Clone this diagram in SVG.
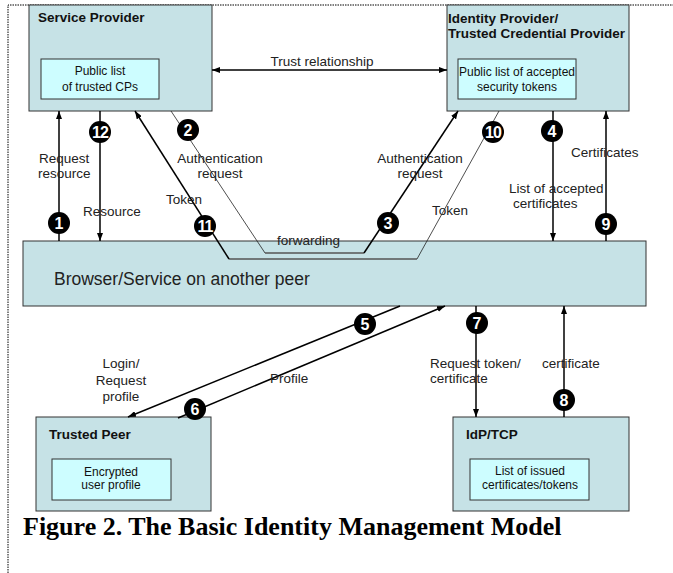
<svg xmlns="http://www.w3.org/2000/svg" width="673" height="573" viewBox="0 0 673 573">
  <defs>
    <style>
      .box { fill: #c6e2e6; stroke: #333; stroke-width: 1; }
      .inner { fill: #cdfdff; stroke: #333; stroke-width: 1; }
      .title { font-family: "Liberation Sans", Arial, sans-serif; font-weight: bold; font-size: 13.5px; fill: #111; }
      .itext { font-family: "Liberation Sans", Arial, sans-serif; font-size: 12px; fill: #111; text-anchor: middle; }
      .lbl { font-family: "Liberation Sans", Arial, sans-serif; font-size: 13.5px; fill: #222; }
      .ln { fill: none; stroke: #000; stroke-width: 1.5; }
      .thin { fill: none; stroke: #222; stroke-width: 0.8; }
      .fwd { fill: none; stroke: #555; stroke-width: 1.6; }
      .badge circle { fill: #000; }
      .badge text { font-family: "Liberation Sans", Arial, sans-serif; font-weight: bold; font-size: 16px; fill: #fff; text-anchor: middle; }
    </style>
    <marker id="ah" viewBox="0 0 8 6" refX="8" refY="3" markerWidth="8" markerHeight="6" markerUnits="userSpaceOnUse" orient="auto-start-reverse">
      <path d="M0,0 L8,3 L0,6 Z" fill="#000"/>
    </marker>
  </defs>

  <rect width="673" height="573" fill="#fff"/>
  <!-- dotted frame -->
  <path d="M8,573 V5 H673" fill="none" stroke="#000" stroke-width="1" stroke-dasharray="1.5 1"/>

  <!-- nodes -->
  <g id="service-provider">
    <rect class="box" x="29" y="5" width="183" height="106"/>
    <text class="title" x="38" y="22">Service Provider</text>
    <rect class="inner" x="41" y="59" width="118" height="40"/>
    <text class="itext" x="100" y="75">Public list</text>
    <text class="itext" x="100" y="91">of trusted CPs</text>
  </g>

  <g id="identity-provider">
    <rect class="box" x="447" y="5" width="182" height="106"/>
    <text class="title" x="448" y="23">Identity Provider/</text>
    <text class="title" x="448" y="38">Trusted Credential Provider</text>
    <rect class="inner" x="458" y="59" width="118" height="40"/>
    <text class="itext" x="517" y="76">Public list of accepted</text>
    <text class="itext" x="517" y="91">security tokens</text>
  </g>

  <g id="browser">
    <rect class="box" x="23" y="241" width="623" height="65"/>
    <text x="54" y="285" font-family="Liberation Sans, Arial, sans-serif" font-size="17.5" fill="#222">Browser/Service on another peer</text>
  </g>

  <g id="trusted-peer">
    <rect class="box" x="36" y="417" width="175" height="94"/>
    <text class="title" x="49" y="439">Trusted Peer</text>
    <rect class="inner" x="52" y="459" width="119" height="41"/>
    <text class="itext" x="111" y="476">Encrypted</text>
    <text class="itext" x="111" y="489">user profile</text>
  </g>

  <g id="idp-tcp">
    <rect class="box" x="453" y="417" width="176" height="94"/>
    <text class="title" x="466" y="439">IdP/TCP</text>
    <rect class="inner" x="470" y="459" width="119" height="41"/>
    <text class="itext" x="530" y="475">List of issued</text>
    <text class="itext" x="530" y="489">certificates/tokens</text>
  </g>

  <!-- connectors -->
  <g id="connectors">
    <!-- trust relationship -->
    <path class="ln" d="M212,70 H447" marker-start="url(#ah)" marker-end="url(#ah)"/>
    <!-- 1 request resource -->
    <path class="ln" d="M59,241 V111" marker-end="url(#ah)"/>
    <!-- 12 resource -->
    <path class="ln" d="M100,111 V241" marker-end="url(#ah)"/>
    <!-- 2 authentication request, forwarded, 3 -->
    <path class="thin" d="M171,111 L265,253"/>
    <path class="fwd" d="M265,253 H364"/>
    <path class="ln" d="M364,253 L458,111" stroke-width="2" marker-end="url(#ah)"/>
    <!-- 10 token, forwarded, 11 -->
    <path class="thin" d="M499,111 L417,259"/>
    <path class="fwd" d="M417,259 H229"/>
    <path class="ln" d="M229,259 L135,111" marker-end="url(#ah)"/>
    <!-- 4 list of accepted certificates -->
    <path class="ln" d="M553,111 V241" marker-end="url(#ah)"/>
    <!-- 9 certificates -->
    <path class="ln" d="M606,241 V111" stroke-width="2" marker-end="url(#ah)"/>
    <!-- 5 login / request profile -->
    <path class="ln" d="M400,306 L128,417" marker-end="url(#ah)"/>
    <!-- 6 profile -->
    <path class="ln" d="M178,418 L445,306" marker-end="url(#ah)"/>
    <!-- 7 request token/certificate -->
    <path class="ln" d="M476,306 V417" marker-end="url(#ah)"/>
    <!-- 8 certificate -->
    <path class="ln" d="M564,417 V306" stroke-width="3" marker-end="url(#ah)"/>

    <!-- step numbers -->
    <g class="badge"><circle cx="59" cy="223" r="11"/><text x="59" y="229">1</text></g>
    <g class="badge"><circle cx="188" cy="130" r="11"/><text x="188" y="136">2</text></g>
    <g class="badge"><circle cx="388" cy="223" r="11"/><text x="388" y="229">3</text></g>
    <g class="badge"><circle cx="552" cy="131" r="11"/><text x="552" y="137">4</text></g>
    <g class="badge"><circle cx="365" cy="324" r="11"/><text x="365" y="330">5</text></g>
    <g class="badge"><circle cx="195" cy="409" r="11"/><text x="195" y="415">6</text></g>
    <g class="badge"><circle cx="477" cy="323" r="11"/><text x="477" y="329">7</text></g>
    <g class="badge"><circle cx="564" cy="400" r="11"/><text x="564" y="406">8</text></g>
    <g class="badge"><circle cx="606" cy="224" r="11"/><text x="606" y="230">9</text></g>
    <g class="badge"><circle cx="493" cy="132" r="11"/><text x="493" y="138" letter-spacing="-1">10</text></g>
    <g class="badge"><circle cx="205" cy="226" r="11"/><text x="205" y="232" letter-spacing="-1">11</text></g>
    <g class="badge"><circle cx="100" cy="132" r="11"/><text x="100" y="138" letter-spacing="-1">12</text></g>
  </g>

  <!-- connector labels -->
  <g id="labels">
    <text class="lbl" x="322" y="66" text-anchor="middle">Trust relationship</text>
    <text class="lbl" x="39" y="163">Request</text>
    <text class="lbl" x="38" y="178">resource</text>
    <text class="lbl" x="83" y="216">Resource</text>
    <text class="lbl" x="220" y="163" text-anchor="middle">Authentication</text>
    <text class="lbl" x="220" y="178" text-anchor="middle">request</text>
    <text class="lbl" x="166" y="204">Token</text>
    <text class="lbl" x="277" y="245">forwarding</text>
    <text class="lbl" x="420" y="163" text-anchor="middle">Authentication</text>
    <text class="lbl" x="420" y="178" text-anchor="middle">request</text>
    <text class="lbl" x="432" y="215">Token</text>
    <text class="lbl" x="571" y="157">Certificates</text>
    <text class="lbl" x="509" y="193">List of accepted</text>
    <text class="lbl" x="513" y="208">certificates</text>
    <text class="lbl" x="121" y="368" text-anchor="middle">Login/</text>
    <text class="lbl" x="121" y="385" text-anchor="middle">Request</text>
    <text class="lbl" x="121" y="401" text-anchor="middle">profile</text>
    <text class="lbl" x="270" y="383">Profile</text>
    <text class="lbl" x="430" y="368">Request token/</text>
    <text class="lbl" x="430" y="383">certificate</text>
    <text class="lbl" x="542" y="368">certificate</text>
  </g>

  <text x="23" y="535" font-family="Liberation Serif, 'Times New Roman', serif" font-weight="bold" font-size="26" fill="#000">Figure 2. The Basic Identity Management Model</text>
</svg>
